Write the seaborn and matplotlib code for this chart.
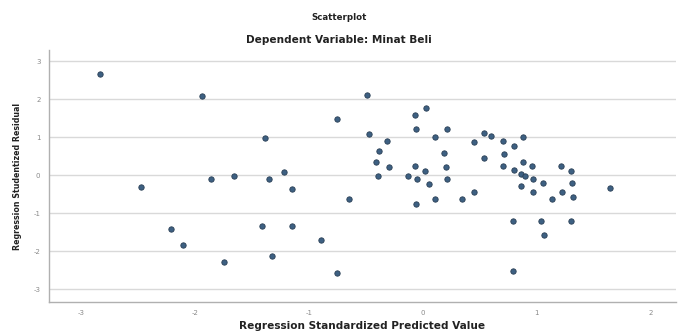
import matplotlib
matplotlib.use("Agg")
import matplotlib.pyplot as plt
import pandas as pd
import seaborn as sns

# Standardized predicted values (x) and studentized residuals (y)
predicted = [-2.83, -1.94, -1.38, -2.47, -1.86, -1.66, -1.35, -1.22, -1.15, -2.21,
             -2.10, -1.74, -1.41, -1.15, -1.32, -0.89, -0.75, -0.49, -0.75, 0.03,
             -0.07, -0.06, -0.47, -0.31, 0.11, 0.21, -0.38, -0.41, -0.30, -0.39,
             -0.07, 0.02, -0.13, -0.05, 0.05, 0.19, 0.20, 0.21, -0.65, 0.11,
             0.45, 0.54, 0.60, 0.70, 0.80, 0.88, 0.54, 0.71, 0.70, 0.80,
             0.88, 0.96, 0.86, 0.90, 0.97, 1.05, 1.21, 0.45, 0.86, 0.97,
             1.22, 0.34, 1.13, 1.30, 1.31, 1.32, 1.64, 0.79, 1.04, 1.30,
             1.06, 0.79, -0.06]
residual = [2.66, 2.08, 0.99, -0.31, -0.09, -0.01, -0.09, 0.09, -0.35, -1.41,
            -1.82, -2.27, -1.34, -1.34, -2.13, -1.69, -2.56, 2.13, 1.48, 1.77,
            1.58, 1.22, 1.10, 0.91, 1.00, 1.22, 0.64, 0.36, 0.21, -0.01,
            0.25, 0.13, -0.02, -0.10, -0.23, 0.58, 0.22, -0.10, -0.62, -0.62,
            0.89, 1.11, 1.04, 0.91, 0.78, 1.01, 0.45, 0.57, 0.24, 0.14,
            0.36, 0.25, 0.03, -0.01, -0.10, -0.21, 0.25, -0.43, -0.29, -0.43,
            -0.43, -0.62, -0.62, 0.13, -0.21, -0.56, -0.32, -1.20, -1.20, -1.20,
            -1.57, -2.51, -0.75]

x_ticks = [-3, -2, -1, 0, 1, 2]
y_ticks = [-3, -2, -1, 0, 1, 2, 3]

df = pd.DataFrame({'pred': predicted, 'resid': residual})

sns.set_style('white')
plt.rcParams['font.family'] = ['DejaVu Sans']

fig = plt.figure(figsize=(6.78, 3.35), dpi=100)
ax = fig.add_axes([0.072, 0.0985, 0.925, 0.752])

# Horizontal reference lines like SPSS
for yv in y_ticks:
    ax.axhline(yv, color='#d9d9d9', linewidth=1.0, zorder=0)

sns.scatterplot(data=df, x='pred', y='resid', ax=ax, s=15,
                color='#3d6082', edgecolor='#2a3f55', linewidth=0.6, zorder=3)

ax.set_xlim(-3.28, 2.22)
ax.set_ylim(-3.33, 3.30)
ax.set_xticks(x_ticks)
ax.set_yticks(y_ticks)
ax.set_xticklabels([str(t) for t in x_ticks])
ax.set_yticklabels([str(t) for t in y_ticks])
ax.tick_params(axis='both', labelsize=5, colors='#8a8a8a', length=0, pad=6)

for side in ['top', 'right']:
    ax.spines[side].set_visible(False)
for side in ['left', 'bottom']:
    ax.spines[side].set_color('#b0b0b0')
    ax.spines[side].set_linewidth(1.0)

ax.set_xlabel('Regression Standardized Predicted Value', fontsize=7.6,
              fontweight='bold', color='#222222', labelpad=3)
ax.set_ylabel('Regression Studentized Residual', fontsize=5.7,
              fontweight='bold', color='#222222', labelpad=8)

fig.text(0.5, 0.948, 'Scatterplot', ha='center', va='center',
         fontsize=6.2, fontweight='bold', color='#222222')
fig.text(0.5, 0.88, 'Dependent Variable: Minat Beli', ha='center', va='center',
         fontsize=7.6, fontweight='bold', color='#222222')

fig.savefig('out.png', dpi=100)
